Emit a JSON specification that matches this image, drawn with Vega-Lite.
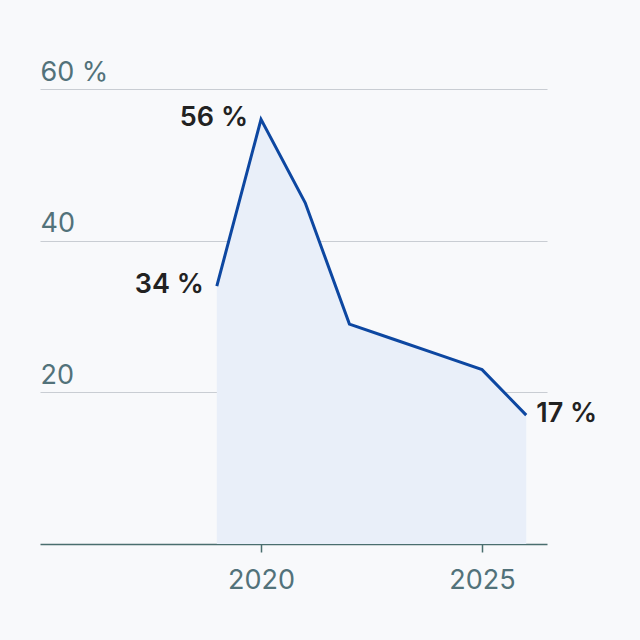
{
  "$schema": "https://vega.github.io/schema/vega-lite/v6.json",
  "width": 507,
  "height": 455,
  "autosize": "none",
  "padding": {"left": 40, "top": 89, "right": 93, "bottom": 96},
  "background": "#f8f9fb",
  "config": {
    "view": {"stroke": null},
    "font": "Inter"
  },
  "data": {
    "values": [
      {"year": 2019, "value": 34, "label": "34 %", "pos": "left"},
      {"year": 2020, "value": 56, "label": "56 %", "pos": "left"},
      {"year": 2021, "value": 45, "label": "", "pos": "none"},
      {"year": 2022, "value": 29, "label": "", "pos": "none"},
      {"year": 2023, "value": 27, "label": "", "pos": "none"},
      {"year": 2024, "value": 25, "label": "", "pos": "none"},
      {"year": 2025, "value": 23, "label": "", "pos": "none"},
      {"year": 2026, "value": 17, "label": "17 %", "pos": "right"}
    ]
  },
  "encoding": {
    "x": {
      "field": "year",
      "type": "quantitative",
      "scale": {"domain": [2015, 2026.47], "nice": false, "zero": false},
      "axis": {
        "values": [2020, 2025],
        "format": "d",
        "title": null,
        "grid": false,
        "domainColor": "#4a6e6e",
        "domainWidth": 1.5,
        "tickColor": "#4a6e6e",
        "tickWidth": 1.5,
        "tickSize": 8,
        "labelColor": "#52727a",
        "labelFontSize": 27,
        "labelPadding": 15,
        "labelFont": "Inter"
      }
    },
    "y": {
      "field": "value",
      "type": "quantitative",
      "scale": {"domain": [0, 60], "nice": false},
      "axis": {
        "values": [20, 40, 60],
        "title": null,
        "domain": false,
        "ticks": false,
        "grid": true,
        "gridColor": "#c9cdd3",
        "gridWidth": 1,
        "labelAlign": "left",
        "labelBaseline": "alphabetic",
        "labelPadding": 0,
        "labelOffset": -9,
        "labelColor": "#52727a",
        "labelFontSize": 27,
        "labelFont": "Inter",
        "labelExpr": "datum.value == 60 ? '60 %' : datum.label"
      }
    }
  },
  "layer": [
    {
      "mark": {"type": "area", "color": "#e9eff9", "opacity": 1}
    },
    {
      "mark": {"type": "line", "color": "#0d47a1", "strokeWidth": 3}
    },
    {
      "transform": [{"filter": "datum.pos == 'left'"}],
      "mark": {"type": "text", "align": "right", "baseline": "middle", "dx": -13, "dy": -1, "fontSize": 27, "fontWeight": 600, "color": "#222222", "font": "Inter"},
      "encoding": {"text": {"field": "label"}}
    },
    {
      "transform": [{"filter": "datum.pos == 'right'"}],
      "mark": {"type": "text", "align": "left", "baseline": "middle", "dx": 10, "dy": -1, "fontSize": 27, "fontWeight": 600, "color": "#222222", "font": "Inter"},
      "encoding": {"text": {"field": "label"}}
    }
  ]
}
